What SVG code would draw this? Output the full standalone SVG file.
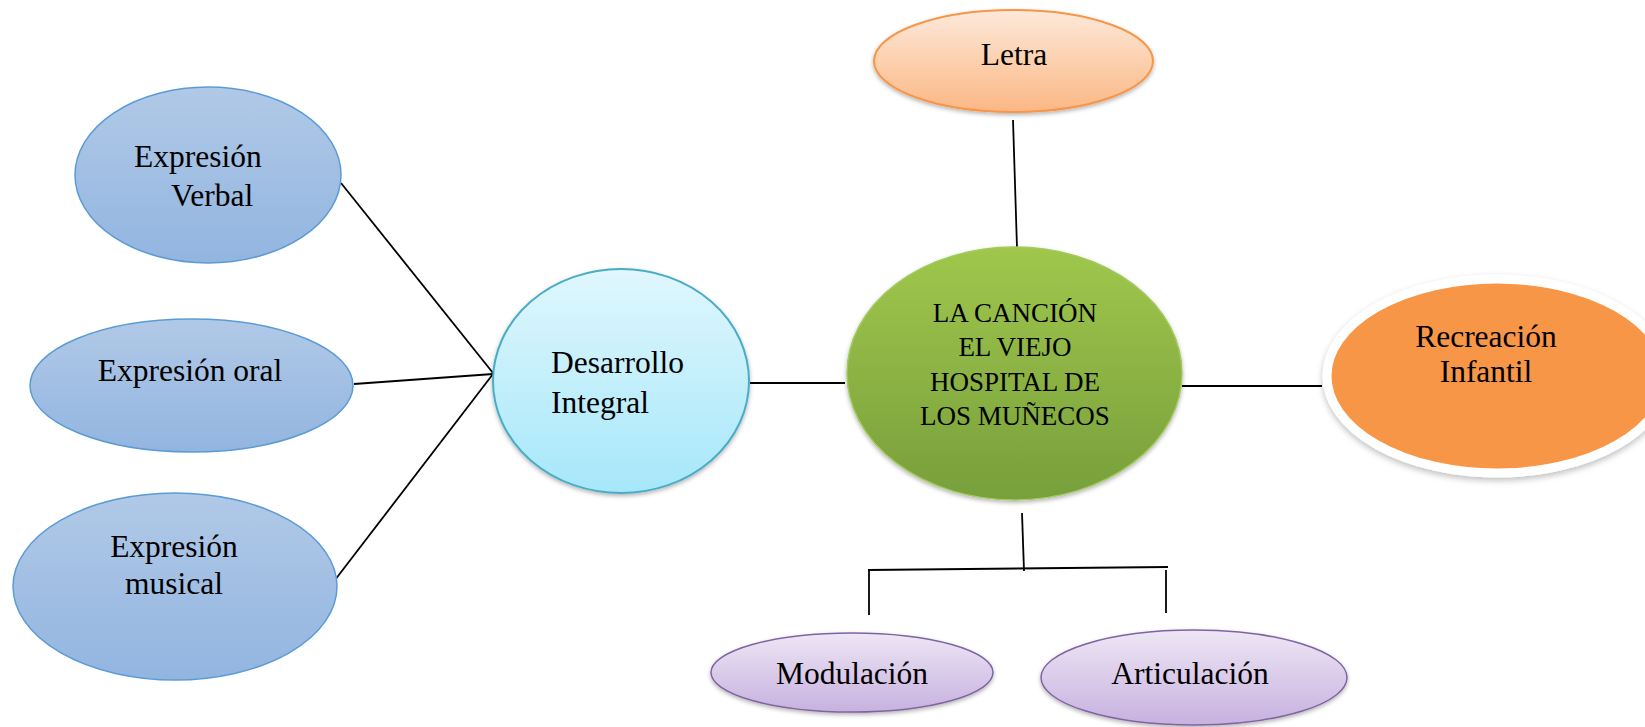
<svg xmlns="http://www.w3.org/2000/svg" width="1645" height="727" viewBox="0 0 1645 727">
<style>
text{font-family:"Liberation Serif","Times New Roman",serif;fill:#000;}
.t{font-size:31.5px;}
.c{font-size:27px;}
.m{text-anchor:middle;}
.ln{stroke:#000;stroke-width:1.8;fill:none;}
</style>
<defs>
<linearGradient id="gBlue" x1="0" y1="0" x2="0" y2="1"><stop offset="0" stop-color="#b1c9e7"/><stop offset="1" stop-color="#92b5e0"/></linearGradient>
<linearGradient id="gCyan" x1="0" y1="0" x2="0" y2="1"><stop offset="0" stop-color="#e0f7fd"/><stop offset="1" stop-color="#a6e7fa"/></linearGradient>
<linearGradient id="gGreen" x1="0" y1="0" x2="0" y2="1"><stop offset="0" stop-color="#a0c74c"/><stop offset="1" stop-color="#779f3b"/></linearGradient>
<linearGradient id="gPeach" x1="0" y1="0" x2="0" y2="1"><stop offset="0" stop-color="#fde9da"/><stop offset="1" stop-color="#fbb784"/></linearGradient>
<linearGradient id="gPurple" x1="0" y1="0" x2="0" y2="1"><stop offset="0" stop-color="#eee6f5"/><stop offset="1" stop-color="#c7b1df"/></linearGradient>
<filter id="sh" x="-10%" y="-10%" width="120%" height="130%"><feDropShadow dx="0" dy="2" stdDeviation="2" flood-color="#000" flood-opacity="0.3"/></filter>
<filter id="sh2" x="-10%" y="-15%" width="120%" height="135%"><feDropShadow dx="0" dy="3" stdDeviation="3" flood-color="#000" flood-opacity="0.25"/></filter>
</defs>

<g id="connectors">
<line class="ln" x1="341" y1="183" x2="493" y2="373"/>
<line class="ln" x1="354" y1="384" x2="493" y2="374"/>
<line class="ln" x1="335" y1="580" x2="493" y2="374"/>
<line class="ln" x1="750" y1="383" x2="845" y2="383"/>
<line class="ln" x1="1182" y1="386" x2="1322" y2="386"/>
<line class="ln" x1="1013" y1="120" x2="1017" y2="248"/>
<line class="ln" x1="1022" y1="513" x2="1024" y2="571"/>
<line class="ln" x1="868" y1="570" x2="1168" y2="567"/>
<line class="ln" x1="869" y1="570" x2="869" y2="615"/>
<line class="ln" x1="1166" y1="570" x2="1166" y2="613"/>
</g>

<g id="expresion-verbal">
<ellipse cx="208" cy="175" rx="133" ry="88" fill="url(#gBlue)" stroke="#5b9bd5" stroke-width="1.5"/>
<text class="t" x="134" y="167">Expresión</text>
<text class="t" x="171" y="206">Verbal</text>
</g>

<g id="expresion-oral">
<ellipse cx="191.5" cy="385.5" rx="161.5" ry="66.5" fill="url(#gBlue)" stroke="#5b9bd5" stroke-width="1.5"/>
<text class="t m" x="190" y="381">Expresión oral</text>
</g>

<g id="expresion-musical">
<ellipse cx="175" cy="586.5" rx="162" ry="93.5" fill="url(#gBlue)" stroke="#5b9bd5" stroke-width="1.5"/>
<text class="t m" x="174" y="557">Expresión</text>
<text class="t m" x="174" y="594">musical</text>
</g>

<g id="desarrollo-integral">
<ellipse cx="621" cy="381" rx="128" ry="112" fill="url(#gCyan)" stroke="#4bacc6" stroke-width="2" filter="url(#sh)"/>
<text class="t" x="551" y="373">Desarrollo</text>
<text class="t" x="551" y="413">Integral</text>
</g>

<g id="cancion">
<ellipse cx="1014.5" cy="373.5" rx="167.5" ry="126.5" fill="url(#gGreen)" stroke="#a3c95f" stroke-width="1.5" filter="url(#sh)"/>
<text class="c m" x="1015" y="322">LA CANCIÓN</text>
<text class="c m" x="1015" y="356">EL VIEJO</text>
<text class="c m" x="1015" y="391">HOSPITAL DE</text>
<text class="c m" x="1015" y="425">LOS MUÑECOS</text>
</g>

<g id="letra">
<ellipse cx="1013.5" cy="61" rx="139.5" ry="51" fill="url(#gPeach)" stroke="#f79646" stroke-width="2" filter="url(#sh)"/>
<text class="t m" x="1014" y="65">Letra</text>
</g>

<g id="recreacion-infantil">
<ellipse cx="1497" cy="376" rx="170" ry="97" fill="#f79646" stroke="#ffffff" stroke-width="9" filter="url(#sh2)"/>
<text class="t m" x="1486" y="347">Recreación</text>
<text class="t m" x="1486" y="382">Infantil</text>
</g>

<g id="modulacion">
<ellipse cx="852" cy="672.5" rx="141" ry="39.5" fill="url(#gPurple)" stroke="#8064a2" stroke-width="1.5" filter="url(#sh)"/>
<text class="t m" x="852" y="684">Modulación</text>
</g>

<g id="articulacion">
<ellipse cx="1194" cy="677.5" rx="153" ry="47.5" fill="url(#gPurple)" stroke="#8064a2" stroke-width="1.5" filter="url(#sh)"/>
<text class="t m" x="1190" y="684">Articulación</text>
</g>
</svg>
